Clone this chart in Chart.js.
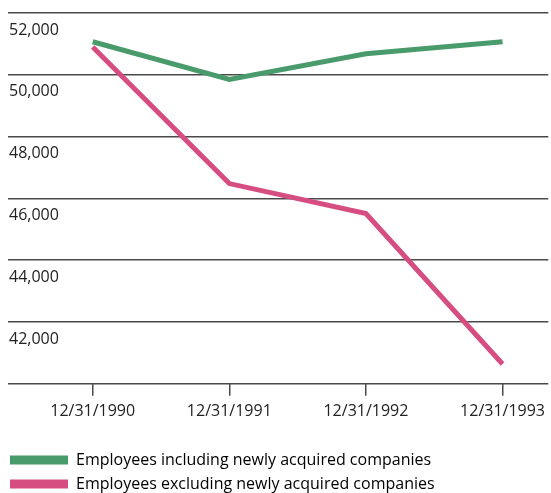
<!DOCTYPE html>
<html>
<head>
<meta charset="utf-8">
<script src="https://cdn.jsdelivr.net/npm/chart.js@4.4.0/dist/chart.umd.min.js"></script>
<style>
	html, body { margin: 0; padding: 0; background: #ffffff; }
	#wrap { width: 551px; height: 493px; position: relative; }
</style>
</head>
<body>
<div id="wrap"><canvas id="employeesChart"></canvas></div>
<script>
	// year-end headcount
	var dates = ['12/31/1990', '12/31/1991', '12/31/1992', '12/31/1993'];
	var includingAcquired = [51070, 49850, 50680, 51070];
	var excludingAcquired = [50900, 46480, 45510, 40640];
	var yTicks = [40000, 42000, 44000, 46000, 48000, 50000, 52000];

	var green = '#4a9b6c';
	var pink = '#d64d82';
	var gridColor = '#4a4a4a';
	var textColor = '#222222';
	var font = '"Open Sans", "Noto Sans", sans-serif';

	function toPoints(values) {
		return values.map(function(v, i) { return { x: i, y: v }; });
	}

	Chart.defaults.font.family = font;
	Chart.defaults.color = textColor;

	new Chart(document.getElementById('employeesChart'), {
		type: 'line',
		data: {
			datasets: [{
				label: 'Employees including newly acquired companies',
				data: toPoints(includingAcquired),
				borderColor: green,
				backgroundColor: green,
				borderWidth: 5,
				pointRadius: 0,
				tension: 0
			}, {
				label: 'Employees excluding newly acquired companies',
				data: toPoints(excludingAcquired),
				borderColor: pink,
				backgroundColor: pink,
				borderWidth: 5,
				pointRadius: 0,
				tension: 0
			}]
		},
		options: {
			responsive: true,
			maintainAspectRatio: false,
			animation: false,
			layout: { padding: { top: 13, left: 2, right: 0, bottom: -9 } },
			plugins: {
				tooltip: { enabled: false },
				legend: {
					position: 'bottom',
					align: 'start',
					labels: {
						boxWidth: 58,
						boxHeight: 9,
						padding: 8,
						color: textColor,
						font: { size: 16 },
						generateLabels: function(chart) {
							return chart.data.datasets.map(function(ds, i) {
								return {
									text: ds.label,
									fillStyle: ds.borderColor,
									strokeStyle: ds.borderColor,
									lineWidth: 0,
									datasetIndex: i
								};
							});
						}
					}
				}
			},
			scales: {
				x: {
					type: 'linear',
					min: -0.62,
					max: 3.335,
					afterBuildTicks: function(scale) {
						scale.ticks = dates.map(function(d, i) { return { value: i }; });
					},
					afterFit: function(scale) {
						scale.height += 17;
					},
					border: { display: false },
					grid: {
						drawOnChartArea: false,
						drawTicks: true,
						tickLength: 12,
						color: gridColor,
						lineWidth: 1.5
					},
					ticks: {
						padding: 6,
						maxRotation: 0,
						autoSkip: false,
						font: { size: 16 },
						callback: function(value) { return dates[value]; }
					}
				},
				y: {
					min: yTicks[0],
					max: yTicks[yTicks.length - 1],
					afterBuildTicks: function(scale) {
						scale.ticks = yTicks.map(function(v) { return { value: v }; });
					},
					afterFit: function(scale) {
						scale.width = 6;
					},
					border: { display: false },
					grid: {
						drawTicks: false,
						color: gridColor,
						lineWidth: 1.5
					},
					ticks: {
						mirror: true,
						padding: 1,
						labelOffset: 17,
						font: { size: 16 },
						callback: function(value) {
							return value === yTicks[0] ? '' : value.toLocaleString('en-US');
						}
					}
				}
			}
		}
	});
</script>
</body>
</html>
